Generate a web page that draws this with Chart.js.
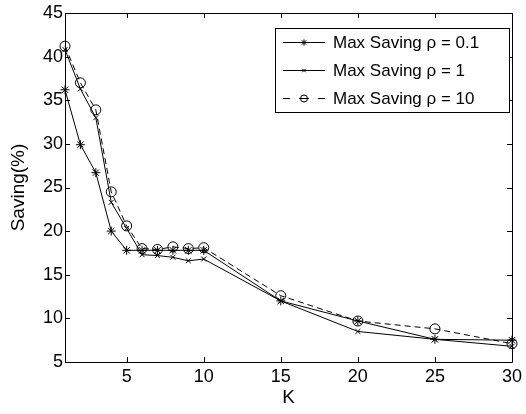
<!DOCTYPE html>
<html>
<head>
<meta charset="utf-8">
<script src="https://cdn.jsdelivr.net/npm/chart.js@4.4.1/dist/chart.umd.min.js"></script>
<style>
  html, body { margin: 0; padding: 0; background: #fff; }
  #wrap { width: 526px; height: 414px; }
</style>
</head>
<body>
<div id="wrap"><canvas id="savingChart" width="526" height="414"></canvas></div>
<script>
const kValues = [1, 2, 3, 4, 5, 6, 7, 8, 9, 10, 15, 20, 25, 30];
const savingRho01 = [36.2, 29.9, 26.7, 20.0, 17.8, 17.8, 17.8, 17.8, 17.8, 17.8, 12.0, 9.7, 7.6, 7.5];
const savingRho1 = [40.8, 36.3, 33.0, 23.3, 20.3, 17.3, 17.2, 17.0, 16.6, 16.8, 12.0, 8.5, 7.6, 6.8];
const savingRho10 = [41.2, 37.0, 33.9, 24.5, 20.6, 18.0, 17.9, 18.2, 18.0, 18.1, 12.6, 9.7, 8.8, 7.1];
const xTicks = [5, 10, 15, 20, 25, 30];
const yTicks = [5, 10, 15, 20, 25, 30, 35, 40, 45];
const seriesLabels = ['Max Saving \u03c1 = 0.1', 'Max Saving \u03c1 = 1', 'Max Saving \u03c1 = 10'];

const FONT = 'Arial, "Liberation Sans", sans-serif';

function toPoints(ys) {
    return kValues.map((k, i) => ({ x: k, y: ys[i] }));
}

// MATLAB-like box with inward ticks + legend drawn inside the axes
const matlabBox = {
    id: 'matlabBox',
    afterDraw(chart) {
        const ctx = chart.ctx;
        const a = chart.chartArea;
        const xs = chart.scales.x, ys = chart.scales.y;
        const len = 5;
        ctx.save();
        ctx.strokeStyle = '#000';
        ctx.lineWidth = 1;
        ctx.beginPath();
        ctx.rect(a.left + 0.5, a.top + 0.5, a.right - a.left, a.bottom - a.top);
        xs.ticks.forEach(t => {
            const px = Math.round(xs.getPixelForValue(t.value)) + 0.5;
            ctx.moveTo(px, a.bottom); ctx.lineTo(px, a.bottom - len);
            ctx.moveTo(px, a.top); ctx.lineTo(px, a.top + len);
        });
        ys.ticks.forEach(t => {
            const py = Math.round(ys.getPixelForValue(t.value)) + 0.5;
            ctx.moveTo(a.left, py); ctx.lineTo(a.left + len, py);
            ctx.moveTo(a.right, py); ctx.lineTo(a.right - len, py);
        });
        ctx.stroke();

        // legend
        const box = { left: 275, top: 28, width: 234, height: 84 };
        ctx.fillStyle = '#fff';
        ctx.fillRect(box.left, box.top, box.width, box.height);
        ctx.strokeRect(box.left + 0.5, box.top + 0.5, box.width, box.height);
        ctx.font = '17px ' + FONT;
        ctx.textBaseline = 'middle';
        chart.data.datasets.forEach((ds, i) => {
            const cy = box.top + 14 + i * 28;
            ctx.save();
            ctx.strokeStyle = ds.borderColor;
            ctx.lineWidth = ds.borderWidth;
            ctx.beginPath();
            if (ds.borderDash) {
                ctx.moveTo(283, cy + 0.5); ctx.lineTo(290, cy + 0.5);
                ctx.moveTo(299, cy + 0.5); ctx.lineTo(309, cy + 0.5);
                ctx.moveTo(318, cy + 0.5); ctx.lineTo(325, cy + 0.5);
            } else {
                ctx.moveTo(283, cy + 0.5); ctx.lineTo(325, cy + 0.5);
            }
            ctx.stroke();
            ctx.fillStyle = 'rgba(0,0,0,0)';
            ctx.strokeStyle = '#000';
            Chart.helpers.drawPoint(ctx, {
                pointStyle: ds.pointStyle,
                radius: ds.pointRadius * 0.7,
                borderWidth: 1
            }, 304, cy + 0.5);
            ctx.restore();
            ctx.fillStyle = '#000';
            ctx.fillText(ds.label, 333, cy + 1);
        });
        ctx.restore();
    }
};

new Chart(document.getElementById('savingChart'), {
    type: 'line',
    data: {
        datasets: [{
            label: seriesLabels[0],
            data: toPoints(savingRho01),
            borderColor: '#000',
            borderWidth: 1,
            pointStyle: 'star',
            pointRadius: 4.5,
            pointBorderColor: '#000',
            pointBackgroundColor: 'rgba(0,0,0,0)',
            tension: 0,
            clip: false
        }, {
            label: seriesLabels[1],
            data: toPoints(savingRho1),
            borderColor: '#000',
            borderWidth: 1,
            pointStyle: 'crossRot',
            pointRadius: 3.5,
            pointBorderColor: '#000',
            pointBackgroundColor: 'rgba(0,0,0,0)',
            tension: 0,
            clip: false
        }, {
            label: seriesLabels[2],
            data: toPoints(savingRho10),
            borderColor: '#000',
            borderWidth: 1,
            borderDash: [6, 4],
            pointStyle: 'circle',
            pointRadius: 5,
            pointBorderColor: '#000',
            pointBackgroundColor: 'rgba(0,0,0,0)',
            tension: 0,
            clip: false
        }]
    },
    options: {
        responsive: false,
        animation: false,
        events: [],
        layout: { padding: { left: 7, right: 13, top: 13, bottom: 0 } },
        plugins: {
            legend: { display: false },
            tooltip: { enabled: false }
        },
        scales: {
            x: {
                type: 'linear',
                min: 1,
                max: 30,
                afterBuildTicks: s => { s.ticks = xTicks.map(v => ({ value: v })); },
                afterFit: s => { s.height = 52; },
                grid: { display: false, drawTicks: false, tickLength: 0 },
                border: { display: false },
                ticks: { color: '#000', font: { family: FONT, size: 18 }, padding: 4, maxRotation: 0 },
                title: { display: true, text: 'K', color: '#000', font: { family: FONT, size: 19 }, padding: { top: 2, bottom: 5 } }
            },
            y: {
                min: 5,
                max: 45,
                afterBuildTicks: s => { s.ticks = yTicks.map(v => ({ value: v })); },
                afterFit: s => { s.width = 58; },
                grid: { display: false, drawTicks: false, tickLength: 0 },
                border: { display: false },
                ticks: { color: '#000', font: { family: FONT, size: 18 }, padding: 2 },
                title: { display: true, text: 'Saving(%)', color: '#000', font: { family: FONT, size: 19 }, padding: 0 }
            }
        }
    },
    plugins: [matlabBox]
});
</script>
</body>
</html>
